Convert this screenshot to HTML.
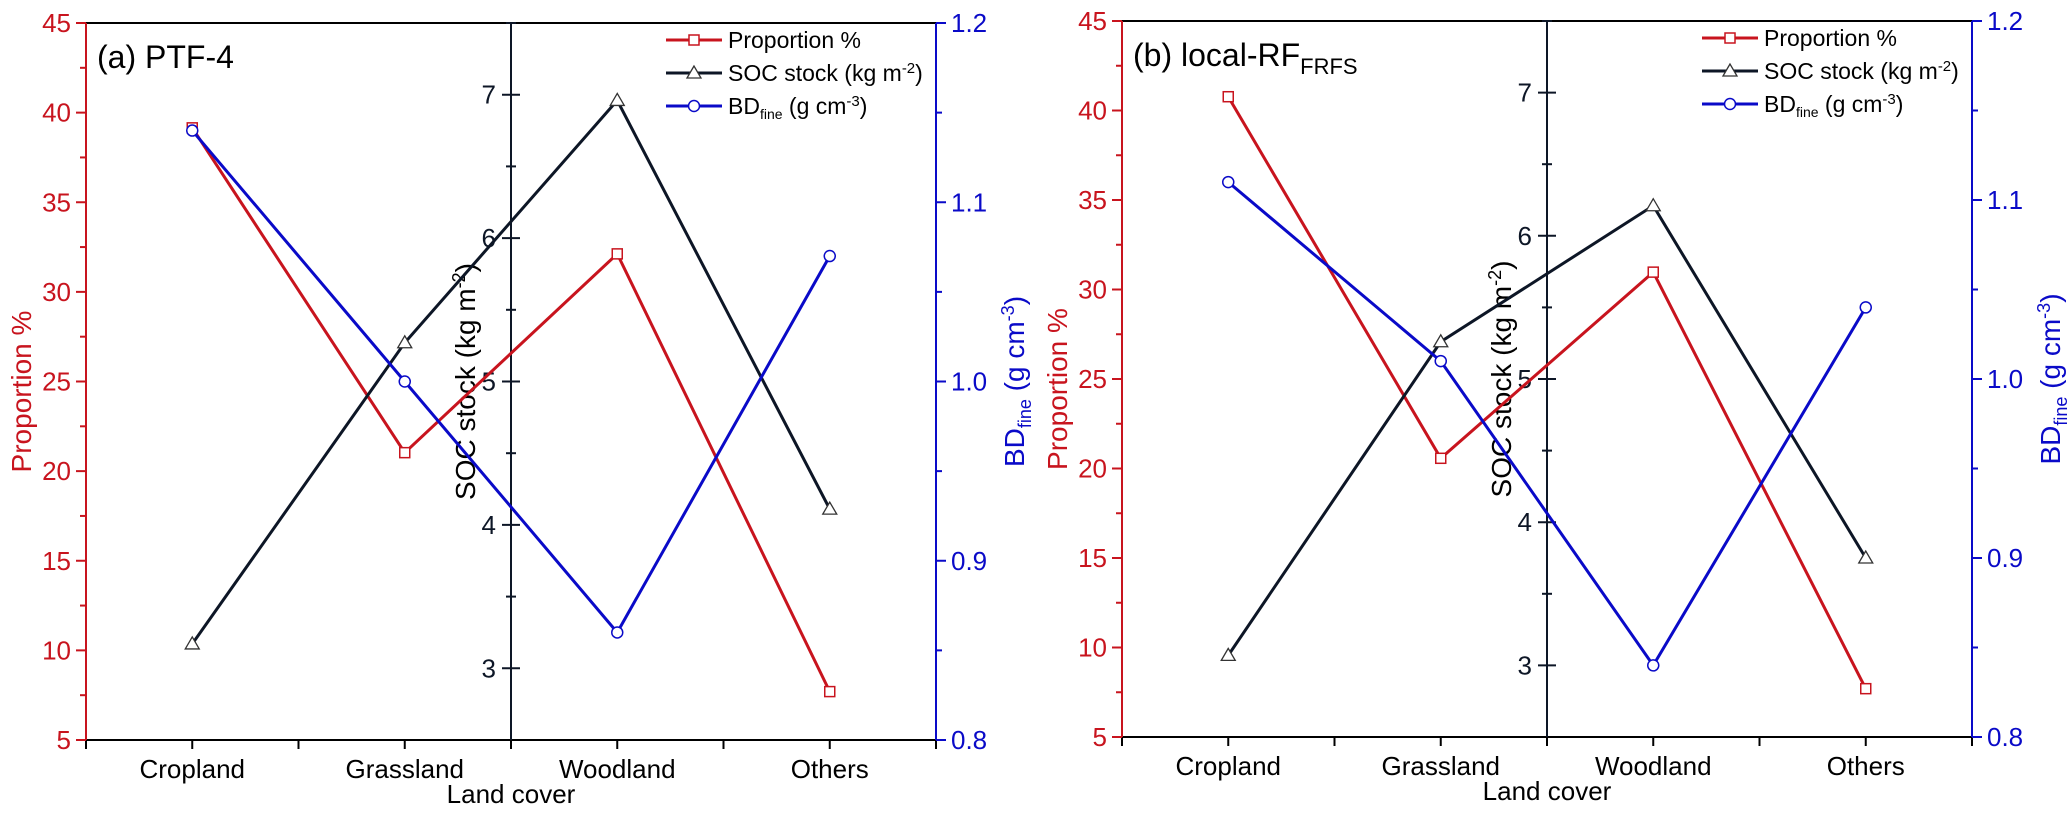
<!DOCTYPE html>
<html><head><meta charset="utf-8"><style>
html,body{margin:0;padding:0;background:#fff;}
svg text{font-family:"Liberation Sans",Arial,sans-serif;}
</style></head><body>
<svg id="chart" width="2067" height="813" viewBox="0 0 2067 813" xmlns="http://www.w3.org/2000/svg"></svg>
<script>
const categories = ["Cropland","Grassland","Woodland","Others"];
const propTicks = [5,10,15,20,25,30,35,40,45];
const socTicks = [3,4,5,6,7];
const bdTicks = ["0.8","0.9","1.0","1.1","1.2"];
const propA = [39.15, 21.03, 32.12, 7.7];
const socA = [3.17, 5.27, 6.96, 4.11];
const bdA = [1.14, 1.00, 0.86, 1.07];
const propB = [40.77, 20.57, 30.97, 7.7];
const socB = [3.07, 5.26, 6.21, 3.75];
const bdB = [1.11, 1.01, 0.84, 1.04];

const NS = "http://www.w3.org/2000/svg";
const svg = document.getElementById('chart');
const RED = "#c8141e", BLUE = "#0a0ac8", BLK = "#0d1626";
function mk(tag, attrs, parent){
  const e = document.createElementNS(NS, tag);
  for (const k in attrs) e.setAttribute(k, attrs[k]);
  (parent||svg).appendChild(e);
  return e;
}
function panel(id, L, R, T, B, title, sub, prop, soc, bd){
  const g = mk('g', {});
  
  
  const M = (L + R) / 2;
  const x = i => L + (i + 0.5) * (R - L) / 4;
  const yP = v => B - (v - 5) / 40 * (B - T);
  const yS = v => B - (v - 2.5) / 5 * (B - T);
  const yB = v => B - (v - 0.8) / 0.4 * (B - T);
  let e = mk('line', {x1:L, y1:T, x2:R, y2:T, stroke:"#000", 'stroke-width':2}, g);
   
  e = mk('line', {x1:L, y1:B, x2:R, y2:B, stroke:"#000", 'stroke-width':2}, g);
   
  for (let k = 0; k <= 8; k++) {
    const xx = L + k * (R - L) / 8;
    mk('line', {x1:xx, y1:B, x2:xx, y2:B + 9, stroke:"#000", 'stroke-width':2}, g);
  }
  categories.forEach((c, i) => {
    const t = mk('text', {x:x(i), y:B + 38, 'font-size':26, 'text-anchor':'middle', fill:"#000"}, g);
    t.textContent = c;
     
  });
  e = mk('text', {x:M, y:B + 63, 'font-size':26, 'text-anchor':'middle', fill:"#000"}, g);
  e.textContent = "Land cover";
   
  e = mk('line', {x1:L, y1:T, x2:L, y2:B, stroke:RED, 'stroke-width':2}, g);
   
  propTicks.forEach(v => {
    mk('line', {x1:L - 10, y1:yP(v), x2:L, y2:yP(v), stroke:RED, 'stroke-width':2}, g);
    if (v < 45) mk('line', {x1:L - 6, y1:yP(v + 2.5), x2:L, y2:yP(v + 2.5), stroke:RED, 'stroke-width':2}, g);
    const t = mk('text', {x:L - 15, y:yP(v) + 9, 'font-size':26, 'text-anchor':'end', fill:RED}, g);
    t.textContent = v;
     
  });
  e = mk('text', {transform:`translate(${L - 55},${(T + B) / 2 + 10}) rotate(-90)`, 'font-size':28, 'text-anchor':'middle', fill:RED}, g);
  e.textContent = "Proportion %";
   
  e = mk('line', {x1:M, y1:T, x2:M, y2:B, stroke:BLK, 'stroke-width':2}, g);
   
  socTicks.forEach(v => {
    mk('line', {x1:M - 9, y1:yS(v), x2:M + 9, y2:yS(v), stroke:BLK, 'stroke-width':2}, g);
    mk('line', {x1:M - 5, y1:yS(v + 0.5), x2:M + 5, y2:yS(v + 0.5), stroke:BLK, 'stroke-width':2}, g);
    const t = mk('text', {x:M - 15, y:yS(v) + 9, 'font-size':26, 'text-anchor':'end', fill:BLK}, g);
    t.textContent = v;
     
  });
  e = mk('text', {transform:`translate(${M - 36},${(T + B) / 2}) rotate(-90)`, 'font-size':28, 'text-anchor':'middle', fill:"#000"}, g);
  e.innerHTML = 'SOC stock (kg m<tspan dy="-10" font-size="18">-2</tspan><tspan dy="10">)</tspan>';
   
  e = mk('line', {x1:R, y1:T, x2:R, y2:B, stroke:BLUE, 'stroke-width':2}, g);
   
  bdTicks.forEach(s => {
    const v = parseFloat(s);
    mk('line', {x1:R, y1:yB(v), x2:R + 10, y2:yB(v), stroke:BLUE, 'stroke-width':2}, g);
    if (v < 1.19) mk('line', {x1:R, y1:yB(v + 0.05), x2:R + 6, y2:yB(v + 0.05), stroke:BLUE, 'stroke-width':2}, g);
    const t = mk('text', {x:R + 15, y:yB(v) + 9, 'font-size':26, 'text-anchor':'start', fill:BLUE}, g);
    t.textContent = s;
     
  });
  e = mk('text', {transform:`translate(${R + 88},${(T + B) / 2}) rotate(-90)`, 'font-size':28, 'text-anchor':'middle', fill:BLUE}, g);
  e.innerHTML = 'BD<tspan dy="7" font-size="18">fine</tspan><tspan dy="-7"> (g cm</tspan><tspan dy="-10" font-size="18">-3</tspan><tspan dy="10">)</tspan>';
   
  e = mk('text', {x:L + 11, y:T + 45, 'font-size':32, fill:"#000"}, g);
  e.innerHTML = sub ? title + '<tspan dy="8" font-size="22">' + sub + '</tspan>' : title;
   
  const series = [
    {vals:prop, y:yP, c:RED, m:'sq', n:'proportion'},
    {vals:soc, y:yS, c:BLK, m:'tri', n:'soc-stock'},
    {vals:bd, y:yB, c:BLUE, m:'circ', n:'bd-fine'}
  ];
  function marker(m, cx, cy, c, parent){
    let el;
    if (m === 'sq') el = mk('rect', {x:cx - 5, y:cy - 5, width:10, height:10, fill:"#fff", stroke:RED, 'stroke-width':1.5}, parent);
    else if (m === 'tri') el = mk('polygon', {points:`${cx},${cy - 7} ${cx - 7},${cy + 5} ${cx + 7},${cy + 5}`, fill:"#fff", stroke:"#333", 'stroke-width':1.3}, parent);
    else el = mk('circle', {cx:cx, cy:cy, r:5.5, fill:"#fff", stroke:BLUE, 'stroke-width':1.5}, parent);
    return el;
  }
  series.forEach(s => {
    const pts = s.vals.map((v, i) => x(i) + ',' + s.y(v)).join(' ');
    const pl = mk('polyline', {points:pts, fill:'none', stroke:s.c, 'stroke-width':3}, g);
     
  });
  series.forEach(s => {
    s.vals.forEach((v, i) => {
      const mm = marker(s.m, x(i), s.y(v), s.c, g);
       
    });
  });
  const lg = mk('g', {}, g);
   
  const lx1 = R - 270, lx2 = R - 214;
  const labels = [
    'Proportion %',
    'SOC stock (kg m<tspan dy="-8" font-size="15">-2</tspan><tspan dy="8">)</tspan>',
    'BD<tspan dy="5" font-size="14">fine</tspan><tspan dy="-5"> (g cm</tspan><tspan dy="-8" font-size="15">-3</tspan><tspan dy="8">)</tspan>'
  ];
  series.forEach((s, k) => {
    const yy = T + 17 + k * 33;
    const it = mk('g', {}, lg);
     
    mk('line', {x1:lx1, y1:yy, x2:lx2, y2:yy, stroke:s.c, 'stroke-width':3}, it);
    marker(s.m, (lx1 + lx2) / 2, yy, s.c, it);
    const t = mk('text', {x:lx2 + 6, y:yy + 8, 'font-size':23, fill:"#000"}, it);
    t.innerHTML = labels[k];
  });
}
panel('a', 86, 936, 23, 740, '(a) PTF-4', '', propA, socA, bdA);
panel('b', 1122, 1972, 21, 737, '(b) local-RF', 'FRFS', propB, socB, bdB);
</script>
</body></html>
